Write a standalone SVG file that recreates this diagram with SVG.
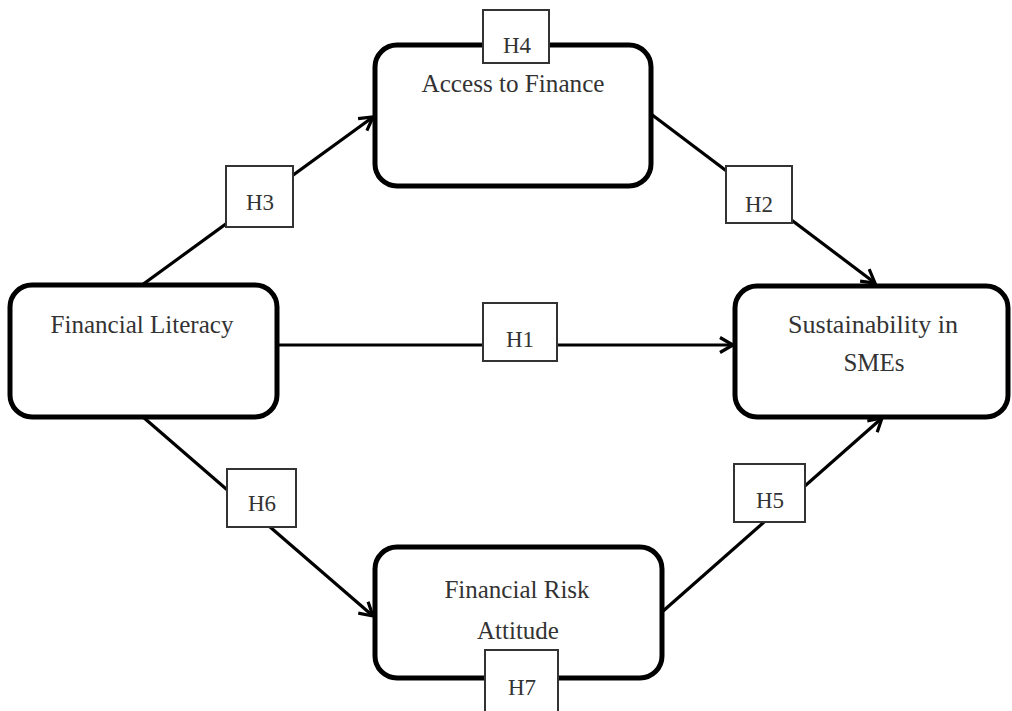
<svg xmlns="http://www.w3.org/2000/svg" width="1012" height="711" viewBox="0 0 1012 711">
<style>
.node{fill:#fff;stroke:#000;stroke-width:5}
.lbl{fill:#fff;stroke:#333;stroke-width:2}
.edge{stroke:#000;stroke-width:3.2;fill:none;marker-end:url(#arr)}
.t{font-family:"Liberation Serif","Times New Roman",serif;font-size:25px;fill:#333;text-anchor:middle}
.h{font-family:"Liberation Serif","Times New Roman",serif;font-size:23px;fill:#333;text-anchor:middle}
</style>
<defs>
<marker id="arr" markerUnits="userSpaceOnUse" markerWidth="22" markerHeight="22" refX="14" refY="9" orient="auto">
<path d="M1,1.5 L14,9 L1,16.5" fill="none" stroke="#000" stroke-width="3.2"/>
</marker>
</defs>
<rect width="1012" height="711" fill="#fff"/>
<g id="connectors">
<line class="edge" x1="142" y1="285" x2="373" y2="117"/>
<line class="edge" x1="651" y1="114" x2="875" y2="283"/>
<line class="edge" x1="277" y1="345" x2="733" y2="345"/>
<line class="edge" x1="143" y1="417" x2="373" y2="616"/>
<line class="edge" x1="662" y1="612" x2="882" y2="418"/>
</g>
<g id="access">
<rect class="node" x="375" y="45" width="276" height="141" rx="22"/>
<text class="t" x="513" y="92" textLength="183" lengthAdjust="spacingAndGlyphs">Access to Finance</text>
</g>
<g id="literacy">
<rect class="node" x="10" y="285" width="267" height="132" rx="22"/>
<text class="t" x="142" y="333" textLength="183" lengthAdjust="spacingAndGlyphs">Financial Literacy</text>
</g>
<g id="sustainability">
<rect class="node" x="735" y="286" width="273" height="131" rx="22"/>
<text class="t" x="873" y="333" textLength="170" lengthAdjust="spacingAndGlyphs">Sustainability in</text>
<text class="t" x="874" y="371">SMEs</text>
</g>
<g id="risk">
<rect class="node" x="375" y="547" width="287" height="131" rx="22"/>
<text class="t" x="517" y="598">Financial Risk</text>
<text class="t" x="518" y="639">Attitude</text>
</g>
<g id="labels">
<g id="h4"><rect class="lbl" x="483" y="10" width="66" height="53"/><text class="h" x="517" y="53">H4</text></g>
<g id="h3"><rect class="lbl" x="226" y="166" width="67" height="61"/><text class="h" x="260" y="210">H3</text></g>
<g id="h2"><rect class="lbl" x="726" y="166" width="66" height="57"/><text class="h" x="759" y="212">H2</text></g>
<g id="h1"><rect class="lbl" x="483" y="303" width="74" height="58"/><text class="h" x="520" y="347">H1</text></g>
<g id="h6"><rect class="lbl" x="227" y="469" width="69" height="58"/><text class="h" x="262" y="511">H6</text></g>
<g id="h5"><rect class="lbl" x="734" y="464" width="71" height="58"/><text class="h" x="770" y="508">H5</text></g>
<g id="h7"><rect class="lbl" x="485" y="650" width="73" height="62"/><text class="h" x="522" y="695">H7</text></g>
</g>
</svg>
